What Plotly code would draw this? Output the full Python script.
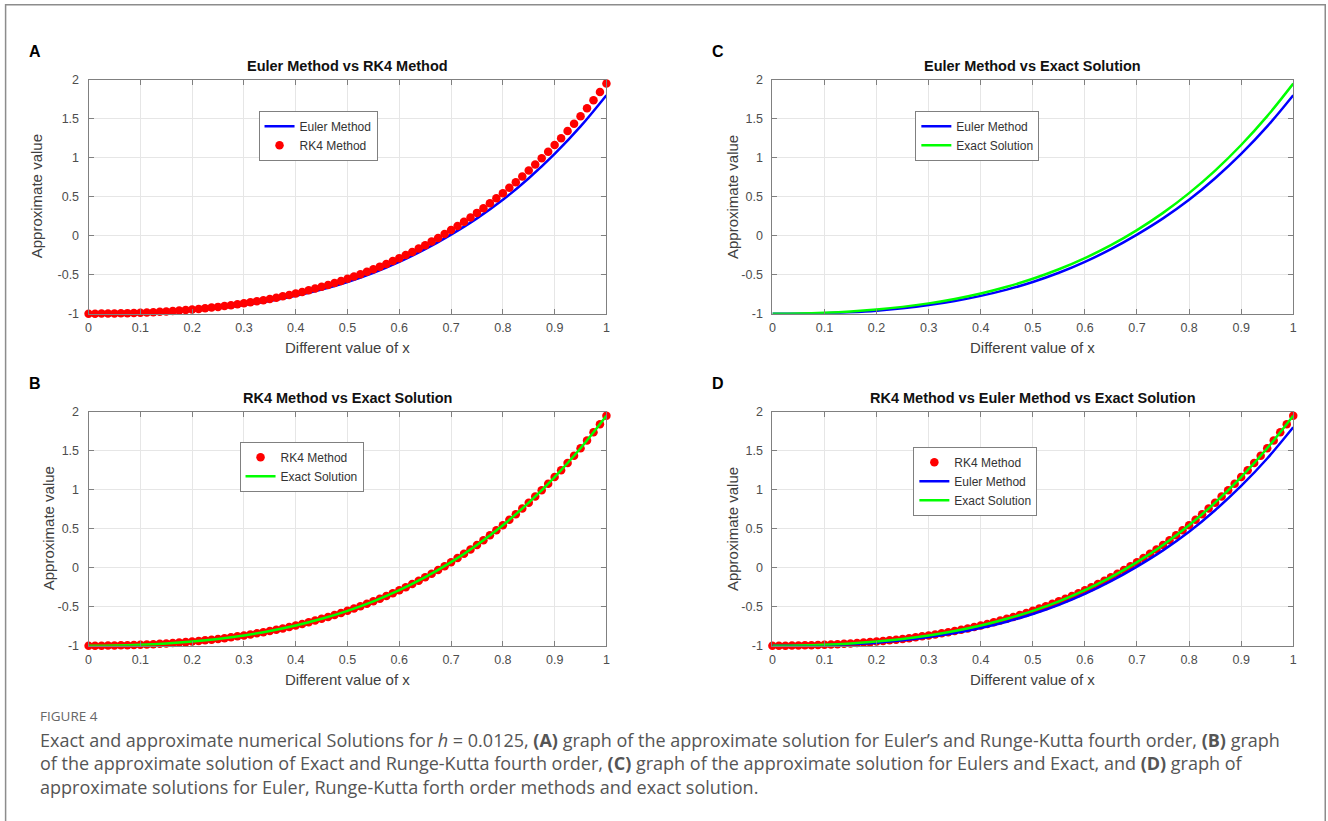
import plotly.graph_objects as go

W = 1328
H_LAYOUT = 830
# measured viewer mapping: shown = SX*(layout_px) + OX ; shown = SY*(layout_px + OY)
SX, OX = 0.995, 2.4
SY, OY = 0.983, 7.5

# ---------------- data ----------------
X_RK4 = [i * 0.0125 for i in range(81)]
RK4 = [-1.000, -1.000, -0.999, -0.998, -0.997, -0.995, -0.993, -0.991, -0.988,
       -0.985, -0.981, -0.976, -0.972, -0.966, -0.960, -0.954, -0.947,
       -0.939, -0.931, -0.922, -0.913, -0.903, -0.892, -0.880, -0.868,
       -0.855, -0.841, -0.827, -0.811, -0.795, -0.778, -0.760, -0.741,
       -0.721, -0.700, -0.678, -0.655, -0.631, -0.606, -0.580, -0.553,
       -0.524, -0.494, -0.463, -0.431, -0.397, -0.362, -0.326, -0.288,
       -0.249, -0.208, -0.166, -0.122, -0.076, -0.029, 0.020, 0.071,
       0.123, 0.178, 0.234, 0.292, 0.352, 0.415, 0.479, 0.545,
       0.614, 0.685, 0.758, 0.834, 0.912, 0.993, 1.076, 1.162,
       1.250, 1.341, 1.435, 1.532, 1.632, 1.735, 1.840, 1.949]

X_LINE = [i * 0.05 for i in range(21)]
EXACT = [-1.000, -0.997, -0.988, -0.972, -0.947, -0.913, -0.868, -0.811, -0.741,
         -0.655, -0.553, -0.431, -0.288, -0.122, 0.071, 0.292, 0.545,
         0.834, 1.162, 1.532, 1.949]
EULER = [-1.000, -1.000, -0.995, -0.982, -0.962, -0.931, -0.890, -0.838, -0.772,
         -0.692, -0.594, -0.476, -0.336, -0.173, 0.014, 0.222, 0.460,
         0.736, 1.048, 1.400, 1.800]

X_TICKS = [0, 0.1, 0.2, 0.3, 0.4, 0.5, 0.6, 0.7, 0.8, 0.9, 1]
X_TICKTEXT = ["0", "0.1", "0.2", "0.3", "0.4", "0.5", "0.6", "0.7", "0.8", "0.9", "1"]
Y_TICKS = [-1, -0.5, 0, 0.5, 1, 1.5, 2]
Y_TICKTEXT = ["-1", "-0.5", "0", "0.5", "1", "1.5", "2"]

TITLES = {
    "A": "Euler Method vs RK4 Method",
    "B": "RK4 Method vs Exact Solution",
    "C": "Euler Method vs Exact Solution",
    "D": "RK4 Method vs Euler Method vs Exact Solution",
}

BLUE = "#0000ff"
RED = "#ff0000"
GREEN = "#00ff00"


def px(x):
    return ((x - OX) / SX) / W


def py(y):
    return 1 - (y / SY - OY) / H_LAYOUT


# panel geometry in pixels: left, right, top, bottom, y-label offset
PANELS = {
    "A": dict(l=88, r=606, t=80, b=314, n=1, yl=52),
    "C": dict(l=772, r=1293, t=80, b=314, n=2, yl=40),
    "B": dict(l=88, r=606, t=412, b=646, n=3, yl=40),
    "D": dict(l=772, r=1293, t=412, b=646, n=4, yl=40),
}

LEGEND_POS = {"A": (258, 111), "C": (915, 111), "B": (239, 442), "D": (913, 447)}

fig = go.Figure()


def axname(n, kind):
    return kind if n == 1 else f"{kind}{n}"


def add_euler(n, leg):
    fig.add_trace(go.Scatter(x=X_LINE, y=EULER, mode="lines", name="Euler Method",
                             line=dict(color=BLUE, width=2.5, shape="spline"),
                             xaxis=axname(n, "x"), yaxis=axname(n, "y"), legend=leg,
                             cliponaxis=False))


def add_exact(n, leg):
    fig.add_trace(go.Scatter(x=X_LINE, y=EXACT, mode="lines", name="Exact Solution",
                             line=dict(color=GREEN, width=2.5, shape="spline"),
                             xaxis=axname(n, "x"), yaxis=axname(n, "y"), legend=leg,
                             cliponaxis=False))


def add_rk4(n, leg):
    fig.add_trace(go.Scatter(x=X_RK4, y=RK4, mode="markers", name="RK4 Method",
                             marker=dict(color=RED, size=8.5),
                             xaxis=axname(n, "x"), yaxis=axname(n, "y"), legend=leg,
                             cliponaxis=False))


# A
add_euler(1, "legend")
add_rk4(1, "legend")
# C
add_euler(2, "legend2")
add_exact(2, "legend2")
# B
add_rk4(3, "legend3")
add_exact(3, "legend3")
# D
add_rk4(4, "legend4")
add_euler(4, "legend4")
add_exact(4, "legend4")

layout = dict(
    width=W, height=H_LAYOUT,
    margin=dict(l=0, r=0, t=0, b=0),
    paper_bgcolor="white", plot_bgcolor="white",
    font=dict(family="Liberation Sans, Arial, sans-serif", color="#404040", size=12),
    showlegend=True,
)

annotations = []
shapes = []

axis_common = dict(showline=True, linecolor="#808080", linewidth=1, mirror="ticks",
                   ticks="inside", ticklen=5, tickcolor="#808080", showgrid=True,
                   gridcolor="#e6e6e6", gridwidth=1, zeroline=False,
                   tickfont=dict(size=12.5, color="#4d4d4d"))

legend_keys = {1: "legend", 2: "legend2", 3: "legend3", 4: "legend4"}

for letter, p in PANELS.items():
    n = p["n"]
    xk = "xaxis" if n == 1 else f"xaxis{n}"
    yk = "yaxis" if n == 1 else f"yaxis{n}"
    layout[xk] = dict(domain=[px(p["l"]), px(p["r"])], range=[0, 1],
                      tickvals=X_TICKS, ticktext=X_TICKTEXT, ticklabelstandoff=2,
                      anchor=axname(n, "y"), **axis_common)
    layout[yk] = dict(domain=[py(p["b"]), py(p["t"])], range=[-1, 2],
                      tickvals=Y_TICKS, ticktext=Y_TICKTEXT, ticklabelstandoff=6,
                      anchor=axname(n, "x"), **axis_common)
    cx = (p["l"] + p["r"]) / 2
    # title
    annotations.append(dict(x=px(cx), y=py(p["t"] - 14), xref="paper", yref="paper",
                            text=f"<b>{TITLES[letter]}</b>", showarrow=False,
                            font=dict(size=14.5, color="#111111"),
                            xanchor="center", yanchor="middle"))
    # x label
    annotations.append(dict(x=px(cx), y=py(p["b"] + 34), xref="paper", yref="paper",
                            text="Different value of x", showarrow=False,
                            font=dict(size=15, color="#404040"),
                            xanchor="center", yanchor="middle"))
    # y label
    annotations.append(dict(x=px(p["l"] - p["yl"]), y=py((p["t"] + p["b"]) / 2),
                            xref="paper", yref="paper",
                            text="Approximate value", showarrow=False, textangle=-90,
                            font=dict(size=15, color="#404040"),
                            xanchor="center", yanchor="middle"))
    # panel letter
    annotations.append(dict(x=px(p["l"] - 62), y=py(p["t"] - 28), xref="paper", yref="paper",
                            text=f"<b>{letter}</b>", showarrow=False,
                            font=dict(size=16, color="#000000",
                                      family="Liberation Sans, Arial, sans-serif"),
                            xanchor="left", yanchor="middle"))
    lx, ly = LEGEND_POS[letter]
    layout[legend_keys[n]] = dict(x=px(lx), y=py(ly), xanchor="left", yanchor="top",
                                  bgcolor="white", bordercolor="#808080", borderwidth=1,
                                  font=dict(size=12, color="#333333"),
                                  tracegroupgap=0, itemwidth=30)

# caption
CAP_COLOR = "#555555"
CAP_FONT = "Open Sans, Noto Sans, sans-serif"
annotations.append(dict(x=px(37), y=py(716), xref="paper", yref="paper",
                        text="FIGURE 4", showarrow=False, xanchor="left", yanchor="middle",
                        font=dict(size=13.5, color="#666666", family=CAP_FONT)))
CAPTION_LINES = [
    "Exact and approximate numerical Solutions for <i>h</i> = 0.0125, <b>(A)</b> graph of the approximate solution for Euler’s and Runge-Kutta fourth order, <b>(B)</b> graph",
    "of the approximate solution of Exact and Runge-Kutta fourth order, <b>(C)</b> graph of the approximate solution for Eulers and Exact, and <b>(D)</b> graph of",
    "approximate solutions for Euler, Runge-Kutta forth order methods and exact solution.",
]
for i, line in enumerate(CAPTION_LINES):
    annotations.append(dict(x=px(37), y=py(740 + i * 23.5), xref="paper", yref="paper",
                            text=line, showarrow=False, xanchor="left", yanchor="middle",
                            font=dict(size=18, color=CAP_COLOR, family=CAP_FONT)))

# outer frame
shapes.append(dict(type="rect", xref="paper", yref="paper",
                   x0=px(5), x1=px(1325), y0=py(840), y1=py(5),
                   line=dict(color="#8c8c8c", width=1.5), fillcolor="rgba(0,0,0,0)"))

layout["annotations"] = annotations
layout["shapes"] = shapes
fig.update_layout(**layout)

fig.write_html(
    "out.html",
    config={"displayModeBar": False},
    post_script="document.body.style.margin='0';document.body.style.padding='0';"
                "document.body.style.overflow='hidden';"
                "document.documentElement.style.overflow='hidden';",
)
